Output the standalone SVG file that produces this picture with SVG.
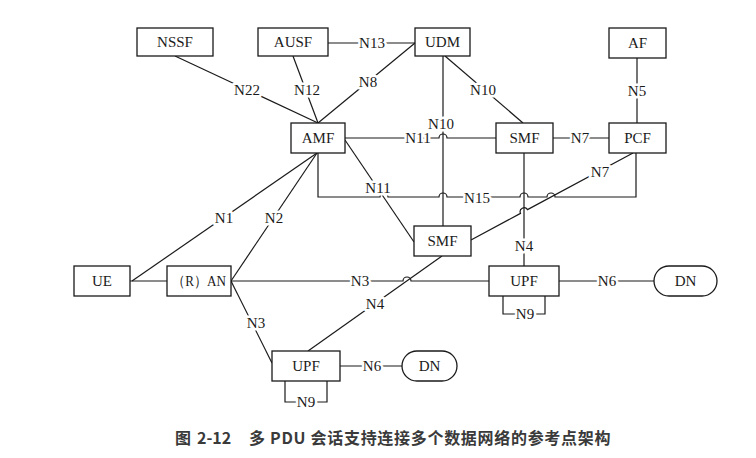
<svg xmlns="http://www.w3.org/2000/svg" width="756" height="458" viewBox="0 0 756 458">
<style>
  .box { fill: #fff; stroke: #1a1a1a; stroke-width: 1.3; }
  .ln { fill: none; stroke: #1a1a1a; stroke-width: 1.2; }
  .t { font-family: "Liberation Serif", "Times New Roman", serif; font-size: 15px; fill: #1a1a1a; text-anchor: middle; }
  .lbl { font-family: "Liberation Serif", "Times New Roman", serif; font-size: 15px; fill: #1a1a1a; text-anchor: middle; paint-order: stroke; stroke: #fff; stroke-width: 5px; stroke-linejoin: round; }
  .cap { font-family: "Noto Sans CJK SC", "Noto Sans", sans-serif; font-size: 16px; font-weight: bold; fill: #3a3a3a; }
</style>
<rect width="756" height="458" fill="#fff"/>
<g id="connectors">
  <path class="ln" d="M175,56 L318,123"/>
  <path class="ln" d="M293,56 L318,123"/>
  <path class="ln" d="M415,43 L318,123"/>
  <path class="ln" d="M328,43 H415"/>
  <path class="ln" d="M445,56 L523,123"/>
  <path class="ln" d="M443,56 V226"/>
  <path class="ln" d="M345,138 H439 A4,4 0 0 1 447,138 H496"/>
  <path class="ln" d="M553,138 H609"/>
  <path class="ln" d="M637,58 V123"/>
  <path class="ln" d="M345,140 L414,242"/>
  <path class="ln" d="M318,153 V197 H380 A4,4 0 0 1 388,197 H439 A4,4 0 0 1 447,197 H520 A4,4 0 0 1 528,197 H547 A4,4 0 0 1 555,197 H636 V153"/>
  <path class="ln" d="M524,153 V266"/>
  <path class="ln" d="M633,153 L527.5,209.6 A4,4 0 0 0 520.5,213.4 L471,240"/>
  <path class="ln" d="M132,281 L317,153"/>
  <path class="ln" d="M130,281 H167"/>
  <path class="ln" d="M231,281 L317,153"/>
  <path class="ln" d="M231,281 H403 A4,4 0 0 1 411,281 H489"/>
  <path class="ln" d="M231,281 L272,363"/>
  <path class="ln" d="M442,256 L308,351"/>
  <path class="ln" d="M559,281 H654"/>
  <path class="ln" d="M340,366 H402"/>
  <path class="ln" d="M503,296 V314 H545 V296"/>
  <path class="ln" d="M285,381 V402 H327 V381"/>
  <text class="lbl" x="247" y="95">N22</text>
  <text class="lbl" x="307" y="95">N12</text>
  <text class="lbl" x="368" y="87">N8</text>
  <text class="lbl" x="372" y="48">N13</text>
  <text class="lbl" x="483" y="95">N10</text>
  <text class="lbl" x="441" y="129">N10</text>
  <text class="lbl" x="418" y="143">N11</text>
  <text class="lbl" x="580" y="143">N7</text>
  <text class="lbl" x="637" y="96">N5</text>
  <text class="lbl" x="378" y="193">N11</text>
  <text class="lbl" x="477" y="203">N15</text>
  <text class="lbl" x="600" y="177">N7</text>
  <text class="lbl" x="524" y="251">N4</text>
  <text class="lbl" x="224" y="223">N1</text>
  <text class="lbl" x="274" y="223">N2</text>
  <text class="lbl" x="360" y="286">N3</text>
  <text class="lbl" x="256" y="328">N3</text>
  <text class="lbl" x="375" y="309">N4</text>
  <text class="lbl" x="607" y="286">N6</text>
  <text class="lbl" x="372" y="371">N6</text>
  <text class="lbl" x="525" y="319">N9</text>
  <text class="lbl" x="306" y="407">N9</text>
</g>
<g id="NSSF"><rect class="box" x="137" y="28" width="76" height="28"/><text class="t" x="175" y="47">NSSF</text></g>
<g id="AUSF"><rect class="box" x="258" y="28" width="70" height="28"/><text class="t" x="293" y="47">AUSF</text></g>
<g id="UDM"><rect class="box" x="415" y="28" width="55" height="28"/><text class="t" x="442.5" y="47">UDM</text></g>
<g id="AF"><rect class="box" x="609" y="28" width="57" height="30"/><text class="t" x="637.5" y="48">AF</text></g>
<g id="AMF"><rect class="box" x="291" y="123" width="54" height="30"/><text class="t" x="318" y="143">AMF</text></g>
<g id="SMF1"><rect class="box" x="496" y="123" width="57" height="30"/><text class="t" x="524.5" y="143">SMF</text></g>
<g id="PCF"><rect class="box" x="609" y="123" width="57" height="30"/><text class="t" x="637.5" y="143">PCF</text></g>
<g id="SMF2"><rect class="box" x="414" y="226" width="57" height="30"/><text class="t" x="442.5" y="246">SMF</text></g>
<g id="UE"><rect class="box" x="74" y="266" width="56" height="30"/><text class="t" x="102" y="286">UE</text></g>
<g id="RAN"><rect class="box" x="167" y="266" width="64" height="30"/><text class="t" x="199" y="286" textLength="54" lengthAdjust="spacingAndGlyphs">（R）AN</text></g>
<g id="UPF1"><rect class="box" x="489" y="266" width="70" height="30"/><text class="t" x="524" y="286">UPF</text></g>
<g id="DN1"><rect class="box" x="654" y="266" width="63" height="30" rx="15"/><text class="t" x="685.5" y="286">DN</text></g>
<g id="UPF2"><rect class="box" x="272" y="351" width="68" height="30"/><text class="t" x="306" y="371">UPF</text></g>
<g id="DN2"><rect class="box" x="402" y="351" width="55" height="30" rx="15"/><text class="t" x="429.5" y="371">DN</text></g>
<g id="caption">
  <text class="cap" x="175" y="444">图<tspan x="197">2-12</tspan><tspan x="249" style="letter-spacing:0.7px">多 PDU 会话支持连接多个数据网络的参考点架构</tspan></text>
</g>
</svg>
